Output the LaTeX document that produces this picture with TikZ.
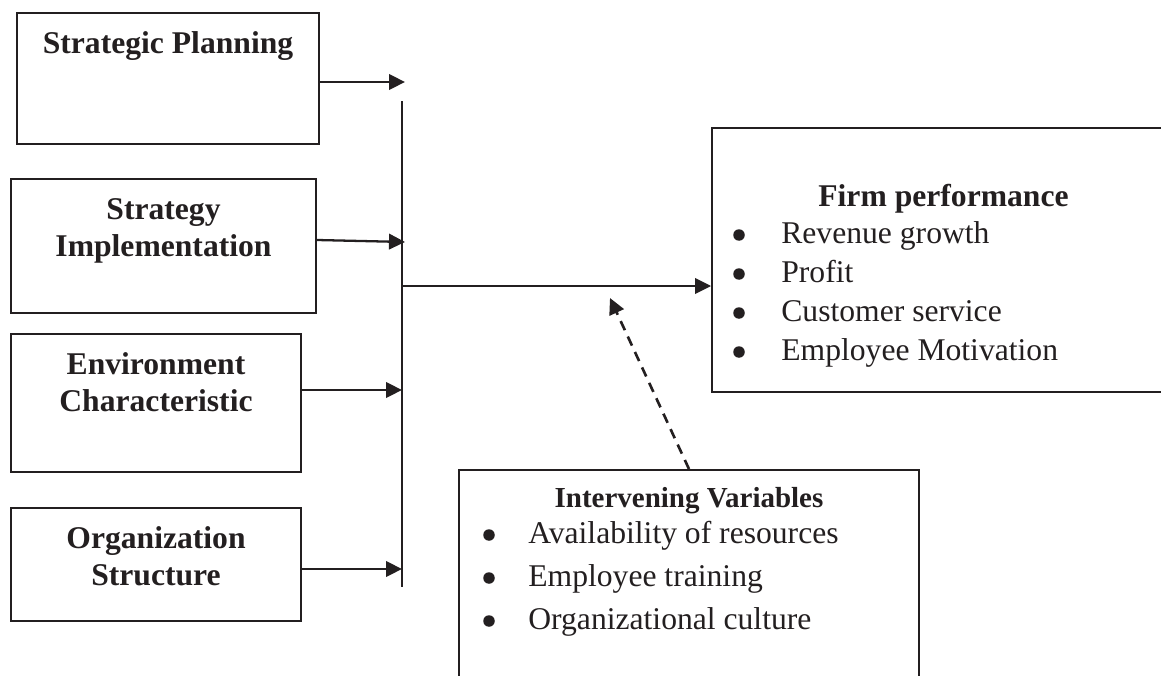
\documentclass[tikz,border=0pt]{standalone}
\usepackage{fontspec}
\setmainfont{Liberation Serif}
\usetikzlibrary{arrows.meta, positioning}
\definecolor{ink}{RGB}{35,31,32}

\begin{document}
\begin{tikzpicture}[x=0.02cm, y=-0.02cm,
    box/.style={draw=ink, line width=1.1pt, inner sep=0pt},
    head/.style={font=\fontsize{18}{21}\selectfont\bfseries, text=ink, align=center, inner sep=0pt},
    item/.style={font=\fontsize{18}{21}\selectfont, text=ink, inner sep=0pt, anchor=base west},
    busline/.style={draw=ink, line width=1.2pt},
    arr/.style={draw=ink, line width=1.3pt, -{Triangle[length=3.2mm, width=3.1mm]}}]

    % Page size
    \useasboundingbox (0,0) rectangle (1161,676);

    % Independent variables
    \node[box, minimum width=6.04cm, minimum height=2.62cm] (sp) at (168,78.5) {};
    \node[box, minimum width=6.1cm, minimum height=2.68cm] (si) at (163.5,246) {};
    \node[box, minimum width=5.8cm, minimum height=2.76cm] (ec) at (156,403) {};
    \node[box, minimum width=5.8cm, minimum height=2.26cm] (os) at (156,564.5) {};

    \node[head, below=0.38cm of sp.north] (spT) {Strategic Planning};
    \node[head, below=0.40cm of si.north] (siT) {Strategy\\Implementation};
    \node[head, below=0.38cm of ec.north] (ecT) {Environment\\Characteristic};
    \node[head, below=0.38cm of os.north] (osT) {Organization\\Structure};

    % Dependent variable
    \node[box, minimum width=9.26cm, minimum height=5.28cm] (fp) at (943.5,260) {};
    \node[head, below=1.14cm of fp.north] (fpT) {Firm performance};
    \foreach \txt [count=\i] in {Revenue growth, Profit, Customer service, Employee Motivation} {
        \node[item] (fp\i) at (781,204+39*\i) {\txt};
        \fill[ink] (739,196+39*\i) circle (0.115cm);
    }

    % Intervening variables
    \node[box, minimum width=9.2cm, minimum height=5cm] (iv) at (689,595) {};
    \node[head, font=\fontsize{16.5}{20}\selectfont\bfseries, below=0.36cm of iv.north] (ivT) {Intervening Variables};
    \foreach \txt [count=\i] in {Availability of resources, Employee training, Organizational culture} {
        \node[item] (iv\i) at (528,500+43*\i) {\txt};
        \fill[ink] (489,492+43*\i) circle (0.115cm);
    }

    % Bus and arrow tips
    \coordinate (busT) at (402,101);
    \coordinate (busB) at (402,587);
    \coordinate (hub) at (402,286);
    \coordinate (a1) at (405,82);
    \coordinate (a2) at (405,242);
    \coordinate (a3) at (402,390);
    \coordinate (a4) at (402,569);
    \coordinate (dtip) at (610,298);

    \draw[busline] (busT) -- (busB);
    \draw[arr] (sp.east |- a1) -- (a1);
    \draw[arr] ([yshift=0.12cm]si.east) -- (a2);
    \draw[arr] (ec.east |- a3) -- (a3);
    \draw[arr] (os.east |- a4) -- (a4);
    \draw[arr] (hub) -- (fp.west |- hub);
    \draw[arr, line width=1.5pt, dash pattern=on 2mm off 1.4mm] (iv.north) -- (dtip);

\end{tikzpicture}
\end{document}
